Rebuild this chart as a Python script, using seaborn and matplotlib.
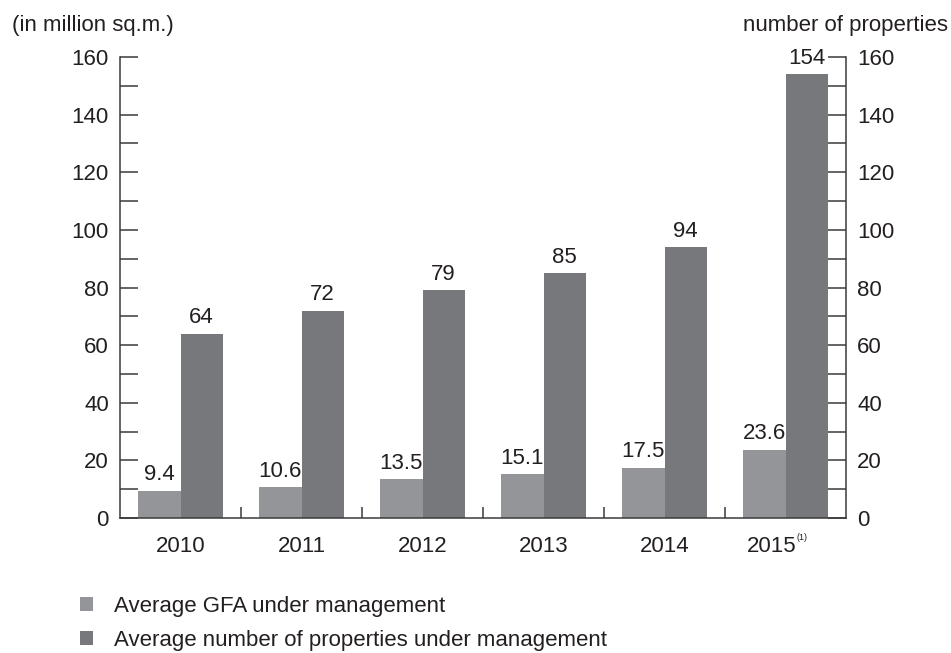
import numpy as np
import matplotlib.pyplot as plt
import seaborn as sb
import pandas as pd
from matplotlib.ticker import MultipleLocator, FixedLocator
from matplotlib.patches import Patch
from matplotlib.transforms import ScaledTranslation

# dados
anos = ["2010", "2011", "2012", "2013", "2014", "2015"]
gfa = [9.4, 10.6, 13.5, 15.1, 17.5, 23.6]
propriedades = [64, 72, 79, 85, 94, 154]
series = ["Average GFA under management", "Average number of properties under management"]
cores = ["#939598", "#77787b"]

df = pd.DataFrame({
    "ano": anos * 2,
    "valor": gfa + propriedades,
    "serie": [series[0]] * len(anos) + [series[1]] * len(anos),
})

sb.set_style("white")
plt.rcParams["font.family"] = ["Liberation Sans", "DejaVu Sans"]
fs = 16
cinza = "#3a3a3a"
texto = "#231f20"

fig = plt.figure(figsize=(9.51, 6.53), dpi=100)
ax = fig.add_axes([120/951, 135/653, (846-120)/951, (518-57)/653])

sb.barplot(data=df, x="ano", y="valor", hue="serie", palette=cores, width=0.7,
           gap=0, saturation=1, linewidth=0, ax=ax, legend=False)

ax.set_ylim(0, 160)
ax.set_xlim(-0.5, 5.5)
ax.set_xlabel("")
ax.set_ylabel("")

# rotulos das barras
ax.bar_label(ax.containers[0], labels=["%.1f" % v for v in gfa], padding=4, fontsize=fs, color=texto)
ax.bar_label(ax.containers[1], labels=["%d" % v for v in propriedades], padding=4, fontsize=fs, color=texto)

# eixos
for s in ["left", "right", "bottom"]:
    ax.spines[s].set_visible(True)
    ax.spines[s].set_color(cinza)
    ax.spines[s].set_linewidth(1.1)
ax.spines["top"].set_visible(False)

ax.yaxis.set_major_locator(MultipleLocator(20))
ax.yaxis.set_minor_locator(MultipleLocator(10))
ax.tick_params(axis="y", which="both", direction="in", length=13, width=1.1, color=cinza,
               labelsize=fs, labelcolor=texto, left=True, right=True,
               labelleft=True, labelright=True, pad=8)

ax.xaxis.set_minor_locator(FixedLocator(np.arange(0.5, 5, 1)))
ax.tick_params(axis="x", which="major", length=0, labelsize=fs, labelcolor=texto, pad=13)
ax.tick_params(axis="x", which="minor", direction="in", length=8, width=1.1, color=cinza, bottom=True)
ax.set_xticks(range(len(anos)))
ax.set_xticklabels(anos)

# 2015 com nota (1)
ult = ax.get_xticklabels()[-1]
ult.set_transform(ult.get_transform() + ScaledTranslation(-0.14, 0, fig.dpi_scale_trans))
ax.annotate("(1)", xy=(5, 0), xycoords=("data", "axes fraction"), xytext=(8, -14),
            textcoords="offset points", fontsize=6.5, color=texto, ha="left", va="center")

fig.text(12/951, 1 - 25/653, "(in million sq.m.)", fontsize=fs, color=texto, va="center", ha="left")
fig.text(948/951, 1 - 25/653, "number of properties", fontsize=fs, color=texto, va="center", ha="right")

handles = [Patch(facecolor=c, edgecolor="none") for c in cores]
fig.legend(handles, series, loc="upper left", bbox_to_anchor=(64/951, 1 - 580/653), frameon=False,
           fontsize=fs, handlelength=0.6, handleheight=0.6, handletextpad=0.95, labelspacing=0.6,
           labelcolor=texto, borderpad=0.2)

plt.savefig("out.png", dpi=100)
